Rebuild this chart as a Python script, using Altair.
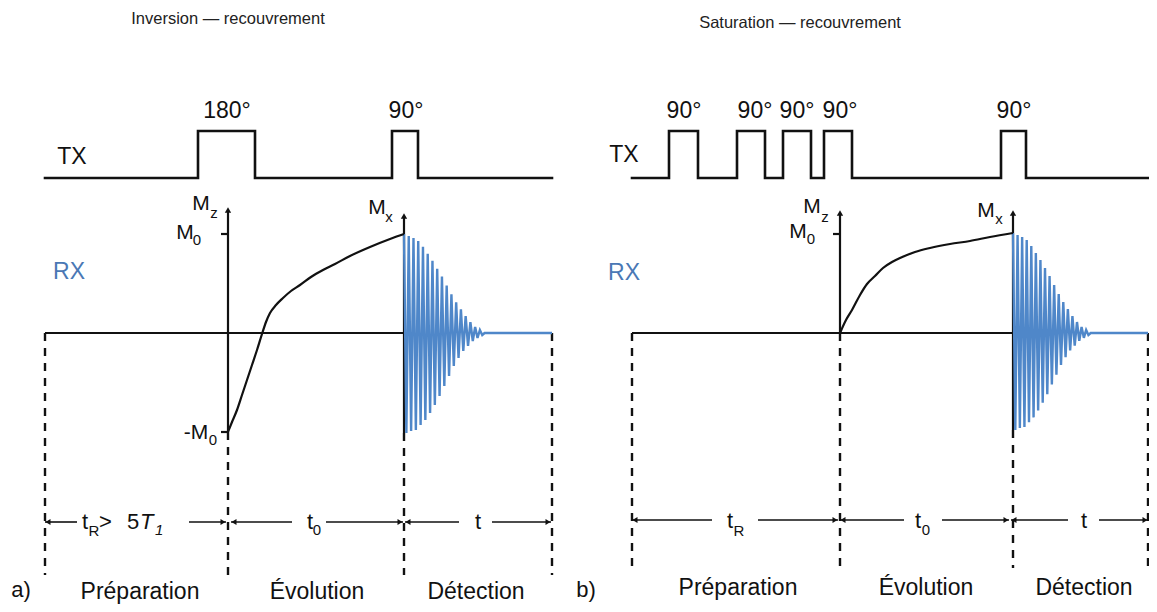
import altair as alt
import pandas as pd

# ---------------- data (reference pixel coordinates) ----------------
# TX pulse trains
TX_A_X = [45, 198, 198, 255, 255, 392, 392, 418, 418, 552]
TX_A_Y = [178, 178, 131, 131, 178, 178, 131, 131, 178, 178]
TX_B_X = [632, 669, 669, 698, 698, 737, 737, 765, 765, 783, 783, 811, 811,
          824, 824, 852, 852, 1001, 1001, 1026, 1026, 1148]
TX_B_Y = [178, 178, 131, 131, 178, 178, 131, 131, 178, 178, 131, 131, 178,
          178, 131, 131, 178, 178, 131, 131, 178, 178]

# magnetisation recovery curves
CURVE_A_X = [228, 232, 237, 242, 247, 252, 257, 262, 266, 270, 276, 283, 291,
             300, 311, 323, 335, 350, 370, 390, 404]
CURVE_A_Y = [432, 422, 410, 395, 380, 365, 350, 334, 322, 313, 305, 298, 291,
             285, 277, 270, 264, 256, 247, 239, 234]
CURVE_B_X = [840, 846, 852, 860, 867, 875, 883, 892, 900, 915, 930, 950, 970,
             990, 1013]
CURVE_B_Y = [333, 320, 310, 295, 284, 276, 268, 262, 258, 252, 248, 244, 241,
             237, 233]

# FID envelope (fraction of M0) for successive oscillation peaks
FID_TOP = [1.0, 0.98, 0.96, 0.93, 0.87, 0.80, 0.73, 0.65, 0.57, 0.48, 0.39,
           0.31, 0.24, 0.17, 0.11, 0.06, 0.03, 0.0]
FID_BOT = [1.0, 0.98, 0.97, 0.92, 0.87, 0.80, 0.72, 0.63, 0.53, 0.43, 0.33,
           0.25, 0.18, 0.13, 0.08, 0.05, 0.02, 0.0]
# start x, decay end x, zero line y, top amplitude, bottom amplitude
FID_A = [404, 487, 333, 99, 100]
FID_B = [1013, 1093, 333, 100, 97]

# solid segments (x1, y1, x2, y2)
SOLID = [
    (45, 333, 404, 333), (228, 432, 228, 211), (221, 234, 228, 234),
    (221, 432, 228, 432), (404, 433, 404, 216),
    (632, 333, 1013, 333), (840, 333, 840, 213), (833, 234, 840, 234),
    (1013, 430, 1013, 214),
]
BLUE_TAIL = [(487, 333, 552, 333), (1093, 333, 1148, 333)]
DASHED = [
    (45, 333, 45, 575), (228, 432, 228, 575), (404, 433, 404, 575),
    (552, 333, 552, 575),
    (632, 333, 632, 568), (840, 333, 840, 568), (1013, 430, 1013, 568),
    (1148, 333, 1148, 568),
]
ARROW_SEGS = [
    (45, 522, 77, 522), (189, 522, 226, 522), (231, 522, 292, 522),
    (326, 522, 403, 522), (405, 522, 459, 522), (492, 522, 551, 522),
    (632, 520, 712, 520), (758, 520, 838, 520), (840, 520, 904, 520),
    (942, 520, 1009, 520), (1011, 520, 1068, 520), (1099, 520, 1147, 520),
]
HEAD_LEFT_X = [48, 234, 408, 635, 843, 1014]
HEAD_LEFT_Y = [522, 522, 522, 520, 520, 520]
HEAD_RIGHT_X = [223, 400, 548, 835, 1006, 1145]
HEAD_RIGHT_Y = [522, 522, 522, 520, 520, 520]
HEAD_UP_X = [228, 404, 840, 1013]
HEAD_UP_Y = [210, 216, 213, 213]

# texts
TITLE_T = ["Inversion — recouvrement", "Saturation — recouvrement"]
TITLE_X = [228, 800]
TITLE_Y = [19, 23]

BIG_T = ["TX", "TX", "180°", "90°", "90°", "90°", "90°", "90°", "90°"]
BIG_X = [72, 624, 227, 406, 684, 755, 797, 840, 1014]
BIG_Y = [157, 155, 111, 111, 111, 111, 111, 111, 111]

RX_T = ["RX", "RX"]
RX_X = [69, 624]
RX_Y = [272, 273]

SEC_T = ["Préparation", "Évolution", "Détection",
         "Préparation", "Évolution", "Détection"]
SEC_X = [140, 317, 476, 738, 926, 1084]
SEC_Y = [592, 592, 592, 588, 588, 588]
PANEL_T = ["a)", "b)"]
PANEL_X = [21, 586]
PANEL_Y = [590, 590]

M_T = ["M", "M", "-M", "M", "M", "M", "M"]
M_X = [201, 185, 196, 377, 812, 798, 986]
M_Y = [204, 233, 433, 208, 207, 232, 211]
MSUB_T = ["z", "0", "0", "x", "z", "0", "x"]
MSUB_X = [214, 197, 213, 389, 825, 811, 999]
MSUB_Y = [213, 240, 440, 217, 217, 239, 219]

TIME_T = ["t", "t", "t", "t", "t", "t"]
TIME_X = [85, 310, 478, 730, 918, 1084]
TIME_Y = [522, 522, 522, 521, 521, 521]
TSUB_T = ["R", "0", "R", "0"]
TSUB_X = [94, 317, 739, 926]
TSUB_Y = [531, 530, 531, 530]
TEXTRA_T = [">", "5"]
TEXTRA_X = [99, 127]
TEXTRA_Y = [522, 522]
TITAL_T = ["T"]
TITAL_X = [140]
TITAL_Y = [522]
TITSUB_T = ["1"]
TITSUB_X = [155]
TITSUB_Y = [530]

# ---------------- build tables ----------------
def poly(name, xs, ys):
    return [{"id": name, "i": i, "x": x, "y": y}
            for i, (x, y) in enumerate(zip(xs, ys))]


def fid(name, spec):
    x0, x1, y0, at, ab = spec
    n = len(FID_TOP)
    p = (x1 - x0) / (n - 0.5)
    xs, ys = [], []
    for k in range(n):
        xs.append(x0 + k * p)
        ys.append(y0 - at * FID_TOP[k])
        xs.append(x0 + (k + 0.5) * p)
        ys.append(y0 + ab * FID_BOT[k])
    xs.append(x1)
    ys.append(y0)
    return poly(name, xs, ys)


def segs(rows):
    return pd.DataFrame(rows, columns=["x", "y", "x2", "y2"])


def texts(t, x, y):
    return pd.DataFrame({"t": t, "x": x, "y": y})


tx_df = pd.DataFrame(poly("a", TX_A_X, TX_A_Y) + poly("b", TX_B_X, TX_B_Y))
curve_df = pd.DataFrame(poly("a", CURVE_A_X, CURVE_A_Y) +
                        poly("b", CURVE_B_X, CURVE_B_Y))
fid_df = pd.DataFrame(fid("a", FID_A) + fid("b", FID_B))

XS = alt.Scale(domain=[8, 1149], nice=False, zero=False)
YS = alt.Scale(domain=[8, 604], reverse=True, nice=False, zero=False)
X = alt.X("x:Q", scale=XS, axis=None)
Y = alt.Y("y:Q", scale=YS, axis=None)

FONT = "Liberation Sans, Arial, sans-serif"
BLACK = "#111111"
BLUE = "#4f87c9"

layers = []

# TX lines
layers.append(alt.Chart(tx_df).mark_line(
    color=BLACK, strokeWidth=2.6, strokeJoin="miter", strokeCap="square"
).encode(x=X, y=Y, detail="id:N", order="i:Q"))

# solid axes
layers.append(alt.Chart(segs(SOLID)).mark_rule(
    color=BLACK, strokeWidth=2.2
).encode(x=X, y=Y, x2="x2:Q", y2="y2:Q"))

# dashed verticals
layers.append(alt.Chart(segs(DASHED)).mark_rule(
    color=BLACK, strokeWidth=2.4, strokeDash=[8, 7]
).encode(x=X, y=Y, x2="x2:Q", y2="y2:Q"))

# FID
layers.append(alt.Chart(fid_df).mark_line(
    color=BLUE, strokeWidth=2.4, strokeJoin="miter"
).encode(x=X, y=Y, detail="id:N", order="i:Q"))
layers.append(alt.Chart(segs(BLUE_TAIL)).mark_rule(
    color=BLUE, strokeWidth=2.6
).encode(x=X, y=Y, x2="x2:Q", y2="y2:Q"))

# curves
layers.append(alt.Chart(curve_df).mark_line(
    color=BLACK, strokeWidth=2.2, interpolate="monotone"
).encode(x=X, y=Y, detail="id:N", order="i:Q"))

# bracket arrows
layers.append(alt.Chart(segs(ARROW_SEGS)).mark_rule(
    color=BLACK, strokeWidth=1.6
).encode(x=X, y=Y, x2="x2:Q", y2="y2:Q"))
for hx, hy, shape, size in [(HEAD_LEFT_X, HEAD_LEFT_Y, "triangle-left", 34),
                            (HEAD_RIGHT_X, HEAD_RIGHT_Y, "triangle-right", 34),
                            (HEAD_UP_X, HEAD_UP_Y, "triangle-up", 40)]:
    layers.append(alt.Chart(pd.DataFrame({"x": hx, "y": hy})).mark_point(
        shape=shape, size=size, filled=True, color=BLACK, opacity=1
    ).encode(x=X, y=Y))


def text_layer(t, x, y, size, color=BLACK, align="center", style="normal",
               font=FONT):
    return alt.Chart(texts(t, x, y)).mark_text(
        font=font, fontSize=size, color=color, align=align,
        baseline="middle", fontStyle=style
    ).encode(x=X, y=Y, text="t:N")


layers.append(text_layer(TITLE_T, TITLE_X, TITLE_Y, 16.5, color="#222222"))
layers.append(text_layer(BIG_T, BIG_X, BIG_Y, 23))
layers.append(text_layer(RX_T, RX_X, RX_Y, 23, color="#4a78b5"))
layers.append(text_layer(SEC_T, SEC_X, SEC_Y, 23))
layers.append(text_layer(PANEL_T, PANEL_X, PANEL_Y, 22))
layers.append(text_layer(M_T, M_X, M_Y, 21))
layers.append(text_layer(MSUB_T, MSUB_X, MSUB_Y, 15))
layers.append(text_layer(TIME_T, TIME_X, TIME_Y, 22))
layers.append(text_layer(TSUB_T, TSUB_X, TSUB_Y, 15))
layers.append(text_layer(TEXTRA_T, TEXTRA_X, TEXTRA_Y, 22, align="left"))
layers.append(text_layer(TITAL_T, TITAL_X, TITAL_Y, 22, align="left",
                         style="italic"))
layers.append(text_layer(TITSUB_T, TITSUB_X, TITSUB_Y, 15, align="left",
                         style="italic"))

chart = alt.layer(*layers).properties(
    width=1141, height=596,
    autosize=alt.AutoSizeParams(type="none"),
    padding=0,
    background="white",
).configure_view(stroke=None)

chart.save("out.html", embed_options={"renderer": "svg", "actions": False})
